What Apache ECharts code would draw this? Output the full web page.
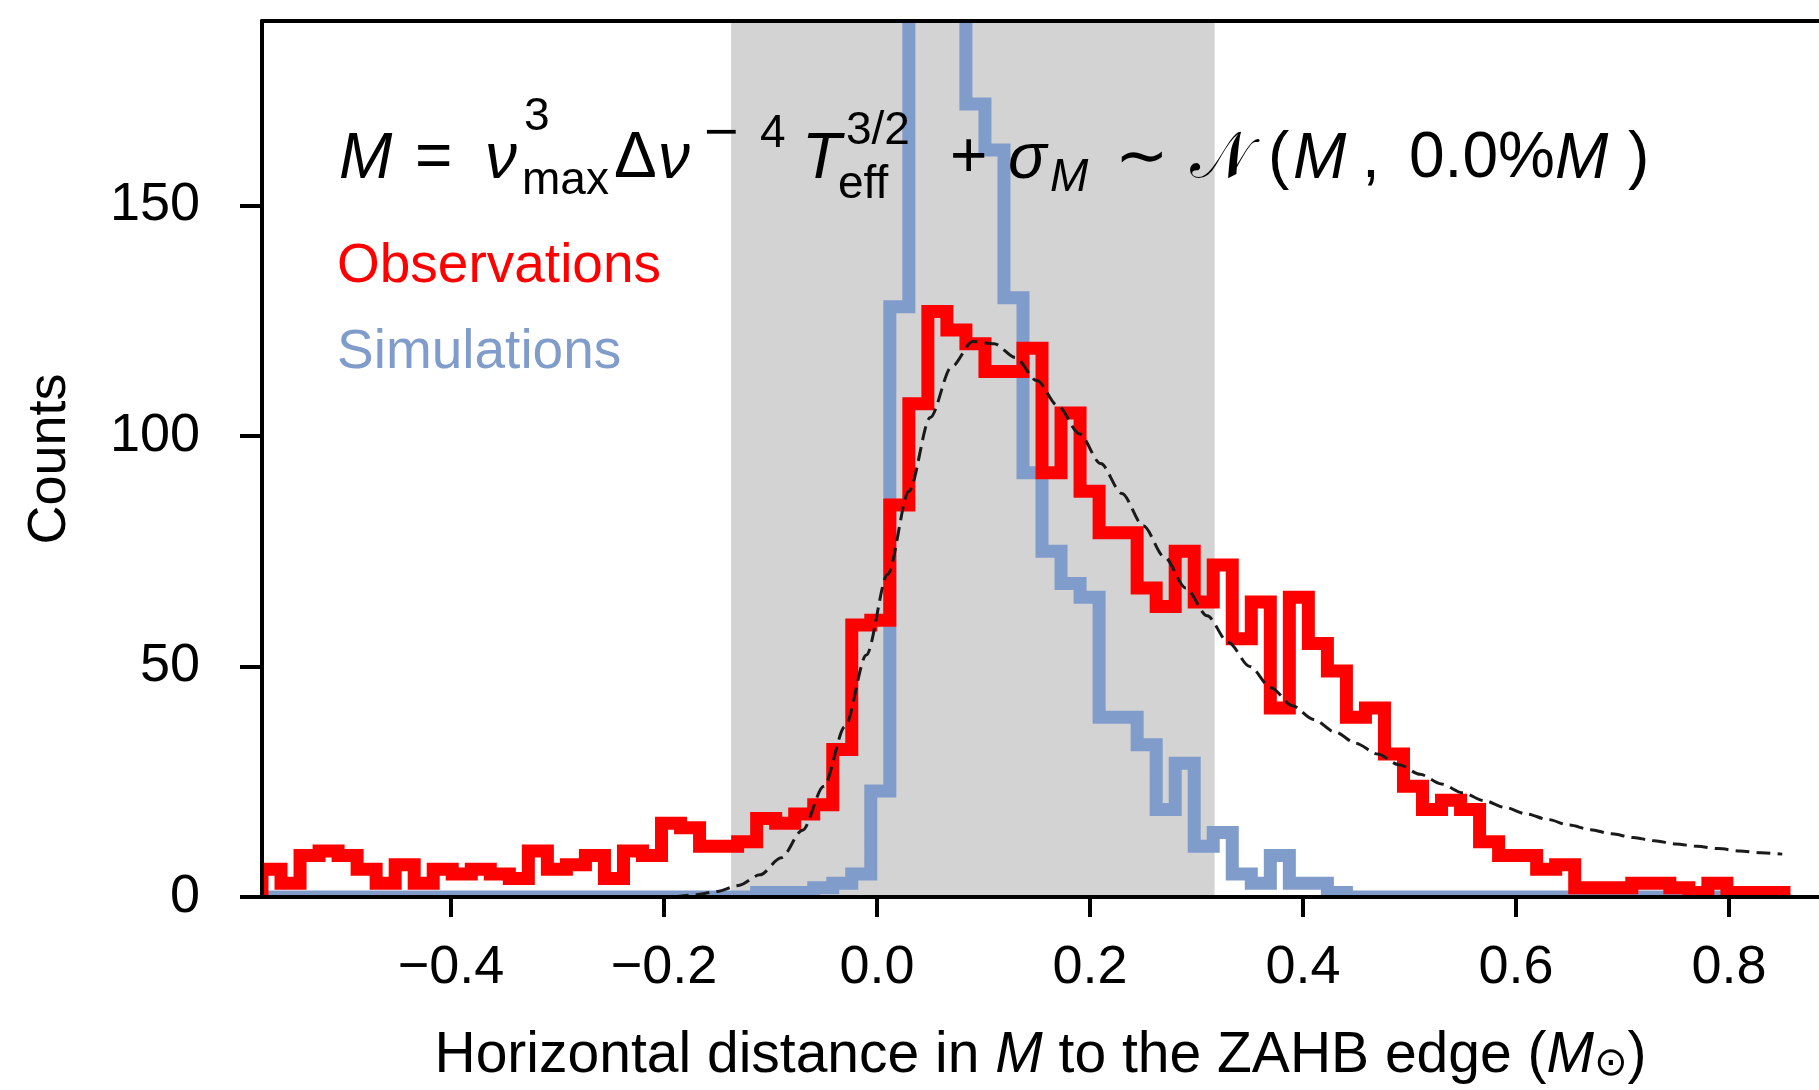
<!DOCTYPE html>
<html><head><meta charset="utf-8">
<script src="https://cdn.jsdelivr.net/npm/echarts@6/dist/echarts.min.js"></script>
<style>html,body{margin:0;padding:0;background:#fff}#c{width:1819px;height:1090px}</style>
</head><body><div id="c"></div>
<script>
// ---------------- data ----------------
const binStart = -0.5775;          // left edge of first histogram bin
const binWidth = 0.017864;         // histogram bin width (80 bins)
const obsCounts = [6,3,9,10,9,6,3,7,3,6, 5,6,5,4,10,6,7,9,4,10, 9,16,15,11,11,12,17,16,18,20,
  32,59,60,85,107,127,123,120,114,114, 119,92,105,88,79,79,67,63,75,64, 72,56,64,41,65,55,49,39,41,31,
  24,19,21,19,12,9,9,6,7,2, 2,2,3,3,2,1,3,1,1,1];
const simCounts = [0,0,0,0,0,0,0,0,0,0, 0,0,0,0,0,0,0,0,0,0, 0,0,0,0,0,0,1,1,1,2,
  3,5,23,128,260,300,240,172,162,130, 92,75,68,65,39,39,33,19,29,11, 14,5,3,9,3,3,1,0,0,0,
  0,0,0,0,0,0,0,0,0,0, 0,0,0,0,0,0,0,0,0,0];
const fitX = [-0.19,-0.17,-0.15,-0.13,-0.11,-0.09,-0.07,-0.05,-0.03,-0.01,0.01,0.03,0.05,0.07,0.09,0.11,0.13,
  0.15,0.17,0.19,0.21,0.23,0.25,0.27,0.29,0.31,0.33,0.35,0.37,0.39,0.41,0.43,0.45,0.47,0.49,0.51,0.53,
  0.55,0.57,0.59,0.61,0.63,0.65,0.67,0.69,0.71,0.73,0.75,0.77,0.79,0.81,0.83,0.85];
const fitY = [0,0.5,1.2,2.5,4.8,8.5,14.5,24,37,52.5,70,88,104,115,120.5,120,117,
  112,106.5,100.5,94,87.5,80.5,73.7,67,61,55.2,50,45.4,41.5,38.5,35.8,33.3,31,28.7,26.6,24.5,
  22.6,20.9,19.4,18,16.8,15.6,14.6,13.7,12.9,12.2,11.5,11,10.5,10,9.6,9.3];
const bandRange = [-0.137, 0.317];
const xRange = [-0.5775, 0.8845];
const yRange = [0, 190];
const xTickValues = [-0.4,-0.2,0,0.2,0.4,0.6,0.8];
const xTickLabels = ['−0.4','−0.2','0.0','0.2','0.4','0.6','0.8'];
const yTickValues = [0,50,100,150];
const yTickLabels = ['0','50','100','150'];
const seriesNames = ['Observations','Simulations'];

// ---------------- styles ----------------
const FONT = '"Liberation Sans", Arial, Helvetica, sans-serif';
const RED = '#ff0000';
const BLUE = '#809ccb';
const BLACK = '#000000';

function stepPoints(counts){
  const pts = [[binStart, 0]];
  counts.forEach((c, i) => {
    const a = binStart + i * binWidth;
    pts.push([a, c], [a + binWidth, c]);
  });
  pts.push([binStart + counts.length * binWidth, 0]);
  return pts;
}
function histSeries(name, counts, color, z){
  return {
    type: 'custom', name: name, coordinateSystem: 'cartesian2d', clip: true, silent: true, z: z,
    data: [[binStart, 0]], encode: {x: 0, y: 1},
    itemStyle: {color: color},
    renderItem: (params, api) => ({
      type: 'polyline',
      shape: {points: stepPoints(counts).map(p => api.coord(p))},
      style: {stroke: color, lineWidth: 13, fill: null, lineJoin: 'miter'}
    })
  };
}

// formula pieces: text, left, baseline, size, italic, font
const MATHSYM = '"DejaVu Sans", sans-serif';
const formula = [
  ['M',339,182,64,true], ['=',415,182,64,false], ['ν',485,182,64,true],
  ['3',524,133,46,false], ['max',522,197,46,false],
  ['Δ',614,182,64,false], ['ν',658,182,64,true], ['−',702,150,46,false,MATHSYM], ['4',760,150,46,false],
  ['T',802,182,64,true], ['3/2',846,147,46,false], ['eff',838,201,46,false],
  ['+',950,182,64,false], ['σ',1008,182,64,true], ['M',1050,194,46,true],
  ['∼',1115,182,64,false], ['𝒩',1190,182,64,false], ['(',1268,182,64,false],
  ['M',1293,182,64,true], [',',1362,182,64,false], ['0.0%',1409,182,64,false],
  ['M',1555,182,64,true], [')',1628,182,64,false]
];
const graphicEls = formula.map(f => ({
  type: 'text', x: f[1], y: f[2] - 0.3465 * f[3], z: 20, silent: true,
  style: {text: f[0], fontSize: f[3], fontFamily: f[5] || FONT, fontStyle: f[4] ? 'italic' : 'normal',
    fill: BLACK, textAlign: 'left', verticalAlign: 'middle', textVerticalAlign: 'middle'}
}));

const axisLineStyle = {color: BLACK, width: 4};
const chart = echarts.init(document.getElementById('c'), null, {renderer: 'canvas'});
chart.setOption({
  animation: false,
  backgroundColor: '#ffffff',
  grid: {left: 262, top: 21, right: 0, bottom: 192, containLabel: false},
  legend: {
    orient: 'vertical', left: 327, top: 234, icon: 'none', itemWidth: 0, itemHeight: 10, itemGap: 31,
    selectedMode: false,
    textStyle: {fontSize: 55, fontFamily: FONT},
    data: [
      {name: seriesNames[0], textStyle: {color: RED}},
      {name: seriesNames[1], textStyle: {color: BLUE}}
    ]
  },
  xAxis: [{
    type: 'value', min: xRange[0], max: xRange[1], position: 'bottom', z: 10,
    axisLine: {show: true, onZero: false, lineStyle: axisLineStyle},
    axisTick: {show: true, customValues: xTickValues, length: 20, lineStyle: axisLineStyle},
    axisLabel: {customValues: xTickValues, fontSize: 54, fontFamily: FONT, color: BLACK, margin: 44,
      formatter: v => xTickLabels[xTickValues.findIndex(t => Math.abs(t - v) < 1e-9)]},
    splitLine: {show: false},
    name: 'Horizontal distance in {i|M} to the ZAHB edge ({i|M}{sub|⊙})',
    nameLocation: 'middle', nameGap: 131,
    nameTextStyle: {fontSize: 57, fontFamily: FONT, color: BLACK,
      rich: {i: {fontSize: 57, fontStyle: 'italic', fontFamily: FONT, color: BLACK},
             sub: {fontSize: 40, fontFamily: '"DejaVu Sans", sans-serif', color: BLACK, verticalAlign: 'bottom', lineHeight: 26}}}
  }, {
    type: 'value', min: xRange[0], max: xRange[1], position: 'top', z: 10,
    axisLine: {show: true, onZero: false, lineStyle: axisLineStyle},
    axisTick: {show: false}, axisLabel: {show: false}, splitLine: {show: false}
  }],
  yAxis: {
    type: 'value', min: yRange[0], max: yRange[1], z: 10,
    axisLine: {show: true, onZero: false, lineStyle: axisLineStyle},
    axisTick: {show: true, customValues: yTickValues, length: 22, lineStyle: axisLineStyle},
    axisLabel: {customValues: yTickValues, fontSize: 54, fontFamily: FONT, color: BLACK, margin: 62,
      formatter: v => yTickLabels[yTickValues.indexOf(v)]},
    splitLine: {show: false},
    name: 'Counts', nameLocation: 'middle', nameGap: 185,
    nameTextStyle: {fontSize: 54, fontFamily: FONT, color: BLACK}
  },
  graphic: graphicEls,
  series: [
    {
      type: 'custom', name: 'band', coordinateSystem: 'cartesian2d', silent: true, z: 1, clip: true,
      data: [[bandRange[0], yRange[1]]], encode: {x: 0, y: 1},
      renderItem: (params, api) => {
        const p0 = api.coord([bandRange[0], yRange[1]]);
        const p1 = api.coord([bandRange[1], yRange[0]]);
        return {type: 'rect', shape: {x: p0[0], y: p0[1], width: p1[0] - p0[0], height: p1[1] - p0[1]},
          style: {fill: '#d3d3d3'}};
      }
    },
    histSeries(seriesNames[1], simCounts, BLUE, 2),
    histSeries(seriesNames[0], obsCounts, RED, 3),
    {
      type: 'line', name: 'fit', z: 4, silent: true, symbol: 'none', smooth: 0.3, smoothMonotone: 'x',
      data: fitX.map((x, i) => [x, fitY[i]]),
      lineStyle: {color: '#1a1a1a', width: 3, type: [14, 7]}
    }
  ]
});
</script></body></html>
